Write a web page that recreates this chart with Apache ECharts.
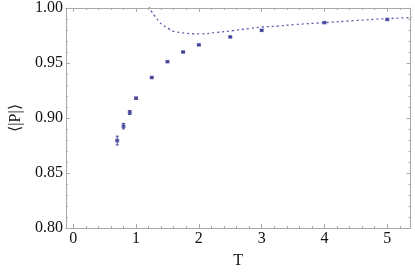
<!DOCTYPE html>
<html><head><meta charset="utf-8">
<script src="https://cdn.jsdelivr.net/npm/echarts@6/dist/echarts.min.js"></script>
<style>html,body{margin:0;padding:0;background:#fff}#c{width:415px;height:274px}</style>
</head><body><div id="c"></div>
<script>
// Data points
const temps = [0.7, 0.8, 0.9, 1.0, 1.25, 1.5, 1.75, 2.0, 2.5, 3.0, 4.0, 5.0];
const pvals = [0.8795, 0.8926, 0.9050, 0.9180, 0.9368, 0.9512, 0.9600, 0.9665, 0.9737, 0.9797, 0.9867, 0.9896];
const perr  = [0.0040, 0.0025, 0.0018, 0.0008, 0.0006, 0.0005, 0.0005, 0.0005, 0.0005, 0.0005, 0.0005, 0.0006];
// Dotted curve (sampled)
const curveT = [1.20, 1.22, 1.25, 1.29, 1.33, 1.37, 1.42, 1.47, 1.53, 1.58, 1.65, 1.78, 1.90, 2.03, 2.29, 2.55, 2.80, 3.00, 3.26, 3.52, 4.00, 4.47, 4.98, 5.31, 5.40];
const curveP = [1.0015, 1.0000, 0.9966, 0.9932, 0.9903, 0.9872, 0.9849, 0.9827, 0.9808, 0.9791, 0.9782, 0.9771, 0.9766, 0.9764, 0.9779, 0.9795, 0.9813, 0.9827, 0.9836, 0.9849, 0.9867, 0.9885, 0.9903, 0.9912, 0.9915];
// Ticks
const xMajor = [0, 1, 2, 3, 4, 5];
const xMinor = [];
for (let i = 0; i <= 26; i++) { if (i % 5 !== 0) xMinor.push(+(i * 0.2).toFixed(1)); }

const X_MIN = -0.117, X_MAX = 5.37;
const col = '#3d3d99';
const axisCol = '#a8a8a8';
const font = '"Liberation Serif", "Times New Roman", serif';

const chart = echarts.init(document.getElementById('c'));
function xa(pos, ticks, len, labels, line) {
  return {
    type: 'value', position: pos, min: X_MIN, max: X_MAX,
    axisLine: {show: line, onZero: false, lineStyle: {color: axisCol, width: 1}},
    axisTick: {show: true, inside: true, length: len, customValues: ticks, lineStyle: {color: axisCol}},
    axisLabel: labels ? {show: true, customValues: xMajor, margin: 3, color: '#111', fontFamily: font, fontSize: 16} : {show: false},
    splitLine: {show: false}
  };
}
function ya(pos, labels) {
  return {
    type: 'value', position: pos, min: 0.8, max: 1.0, interval: 0.05,
    axisLine: {show: true, onZero: false, lineStyle: {color: axisCol, width: 1}},
    axisTick: {show: true, inside: true, length: 4, lineStyle: {color: axisCol}},
    minorTick: {show: true, splitNumber: 5, length: 2, lineStyle: {color: axisCol}},
    axisLabel: labels ? {show: true, margin: 3, color: '#111', fontFamily: font, fontSize: 16, formatter: v => v.toFixed(2)} : {show: false},
    splitLine: {show: false}, minorSplitLine: {show: false},
    name: labels ? '⟨|P|⟩' : '', nameLocation: 'middle', nameGap: 39,
    nameTextStyle: {color: '#111', fontFamily: font, fontSize: 16}
  };
}
const xMain = xa('bottom', xMajor, 4, true, true);
xMain.name = 'T'; xMain.nameLocation = 'middle'; xMain.nameGap = 25;
xMain.nameTextStyle = {color: '#111', fontFamily: font, fontSize: 16};

chart.setOption({
  animation: false,
  grid: {left: 53, right: 4.5, top: 8, height: 223.5},
  xAxis: [xMain, xa('bottom', xMinor, 2, false, false), xa('top', xMajor, 4, false, true), xa('top', xMinor, 2, false, false)],
  yAxis: [ya('left', true), ya('right', false)],
  series: [
    {
      type: 'line', xAxisIndex: 0, yAxisIndex: 0, showSymbol: false, smooth: true, clip: true,
      data: curveT.map((t, i) => [t, curveP[i]]),
      lineStyle: {color: '#5a5ab0', width: 1.3, type: [2, 3]}
    },
    {
      type: 'custom', xAxisIndex: 0, yAxisIndex: 0, clip: true,
      data: temps.map((t, i) => [t, pvals[i] - perr[i], pvals[i] + perr[i]]),
      encode: {x: 0, y: [1, 2]},
      renderItem: function (params, api) {
        const x = api.value(0);
        const a = api.coord([x, api.value(2)]);
        const b = api.coord([x, api.value(1)]);
        const w = 1.5;
        const st = {stroke: col, lineWidth: 1};
        return {type: 'group', children: [
          {type: 'line', shape: {x1: a[0], y1: a[1], x2: b[0], y2: b[1]}, style: st},
          {type: 'line', shape: {x1: a[0] - w, y1: a[1], x2: a[0] + w, y2: a[1]}, style: st},
          {type: 'line', shape: {x1: b[0] - w, y1: b[1], x2: b[0] + w, y2: b[1]}, style: st}
        ]};
      }
    },
    {
      type: 'scatter', xAxisIndex: 0, yAxisIndex: 0, symbol: 'rect', symbolSize: [4, 3.5],
      data: temps.map((t, i) => [t, pvals[i]]),
      itemStyle: {color: col}
    }
  ]
});
</script></body></html>
